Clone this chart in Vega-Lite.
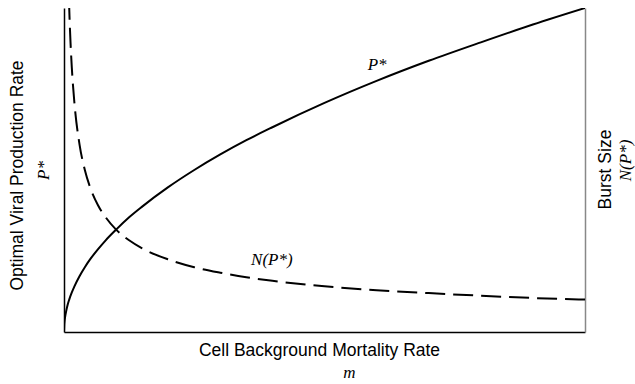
{
  "$schema": "https://vega.github.io/schema/vega-lite/v6.json",
  "width": 521,
  "height": 324,
  "autosize": {"type": "none"},
  "padding": {"left": 64, "top": 8, "right": 50, "bottom": 52},
  "background": "white",
  "config": {
    "view": {"stroke": null},
    "font": "Liberation Sans",
    "axis": {
      "grid": false,
      "ticks": false,
      "tickSize": 0,
      "domainColor": "#000000",
      "domainWidth": 1.5,
      "labelFont": "Liberation Serif",
      "labelFontStyle": "italic",
      "labelFontSize": 17,
      "labelColor": "#000000",
      "labelOverlap": false,
      "labelFlush": false,
      "titleFont": "Liberation Sans",
      "titleFontSize": 17.5,
      "titleFontWeight": "normal",
      "titleColor": "#000000"
    }
  },
  "datasets": {
    "P": [
      {"m": 0, "P": 0},
      {"m": 0.0005, "P": 0.022},
      {"m": 0.001, "P": 0.032},
      {"m": 0.002, "P": 0.045},
      {"m": 0.004, "P": 0.063},
      {"m": 0.007, "P": 0.084},
      {"m": 0.01, "P": 0.1},
      {"m": 0.015, "P": 0.122},
      {"m": 0.02, "P": 0.141},
      {"m": 0.03, "P": 0.173},
      {"m": 0.04, "P": 0.2},
      {"m": 0.05, "P": 0.224},
      {"m": 0.065, "P": 0.255},
      {"m": 0.08, "P": 0.283},
      {"m": 0.1, "P": 0.316},
      {"m": 0.125, "P": 0.354},
      {"m": 0.15, "P": 0.387},
      {"m": 0.2, "P": 0.447},
      {"m": 0.25, "P": 0.5},
      {"m": 0.3, "P": 0.548},
      {"m": 0.35, "P": 0.592},
      {"m": 0.4, "P": 0.632},
      {"m": 0.5, "P": 0.707},
      {"m": 0.6, "P": 0.775},
      {"m": 0.7, "P": 0.837},
      {"m": 0.8, "P": 0.894},
      {"m": 0.9, "P": 0.949},
      {"m": 1.0, "P": 1.0}
    ],
    "N": [
      {"m": 0.0095, "N": 1.026},
      {"m": 0.0105, "N": 0.976},
      {"m": 0.0125, "N": 0.894},
      {"m": 0.015, "N": 0.816},
      {"m": 0.02, "N": 0.707},
      {"m": 0.03, "N": 0.577},
      {"m": 0.04, "N": 0.5},
      {"m": 0.05, "N": 0.447},
      {"m": 0.065, "N": 0.392},
      {"m": 0.08, "N": 0.354},
      {"m": 0.1, "N": 0.316},
      {"m": 0.125, "N": 0.283},
      {"m": 0.15, "N": 0.258},
      {"m": 0.2, "N": 0.224},
      {"m": 0.25, "N": 0.2},
      {"m": 0.3, "N": 0.183},
      {"m": 0.35, "N": 0.169},
      {"m": 0.4, "N": 0.158},
      {"m": 0.5, "N": 0.141},
      {"m": 0.6, "N": 0.129},
      {"m": 0.7, "N": 0.12},
      {"m": 0.8, "N": 0.112},
      {"m": 0.9, "N": 0.105},
      {"m": 1.0, "N": 0.1}
    ],
    "labels": [
      {"m": 0.601, "P": 0.824, "label": "P*"},
      {"m": 0.399, "P": 0.222, "label": "N(P*)"}
    ]
  },
  "layer": [
    {
      "layer": [
        {
          "data": {"name": "P"},
          "mark": {"type": "line", "color": "#000000", "strokeWidth": 2, "interpolate": "monotone", "clip": true},
          "encoding": {
            "x": {
              "field": "m",
              "type": "quantitative",
              "scale": {"domain": [0, 1], "nice": false, "zero": false},
              "axis": {
                "orient": "bottom",
                "values": [0.547],
                "labelExpr": "'m'",
                "labelPadding": 45,
                "labelBaseline": "alphabetic",
                "labelAlign": "center",
                "title": "Cell Background Mortality Rate",
                "titleX": 255,
                "titleY": 18,
                "titleAlign": "center",
                "titleBaseline": "middle"
              }
            },
            "y": {
              "field": "P",
              "type": "quantitative",
              "scale": {"domain": [0, 1], "nice": false, "zero": false},
              "axis": {
                "orient": "left",
                "values": [0.5],
                "labelExpr": "'P*'",
                "labelAngle": -90,
                "labelAlign": "center",
                "labelBaseline": "middle",
                "labelPadding": 21,
                "title": "Optimal Viral Production Rate",
                "titleAngle": -90,
                "titleX": -47,
                "titleY": 167,
                "titleAlign": "center",
                "titleBaseline": "middle"
              }
            }
          }
        },
        {
          "data": {"name": "labels"},
          "mark": {"type": "text", "font": "Liberation Serif", "fontStyle": "italic", "fontSize": 17, "color": "#000000", "align": "center", "baseline": "middle"},
          "encoding": {
            "x": {"field": "m", "type": "quantitative"},
            "y": {"field": "P", "type": "quantitative"},
            "text": {"field": "label"}
          }
        }
      ]
    },
    {
      "data": {"name": "N"},
      "mark": {"type": "line", "color": "#000000", "strokeWidth": 2, "strokeDash": [20, 8], "interpolate": "monotone", "clip": true},
      "encoding": {
        "x": {"field": "m", "type": "quantitative"},
        "y": {
          "field": "N",
          "type": "quantitative",
          "scale": {"domain": [0, 1], "nice": false, "zero": false},
          "axis": {
            "orient": "right",
            "values": [0.531],
            "labelExpr": "'N(P*)'",
            "labelAngle": -90,
            "labelAlign": "center",
            "labelBaseline": "middle",
            "labelPadding": 40,
            "domainColor": "#888888",
            "domainWidth": 1.5,
            "title": "Burst Size",
            "titleAngle": -90,
            "titleX": 20,
            "titleY": 161,
            "titleAlign": "center",
            "titleBaseline": "middle"
          }
        }
      }
    }
  ],
  "resolve": {"scale": {"y": "independent"}}
}
